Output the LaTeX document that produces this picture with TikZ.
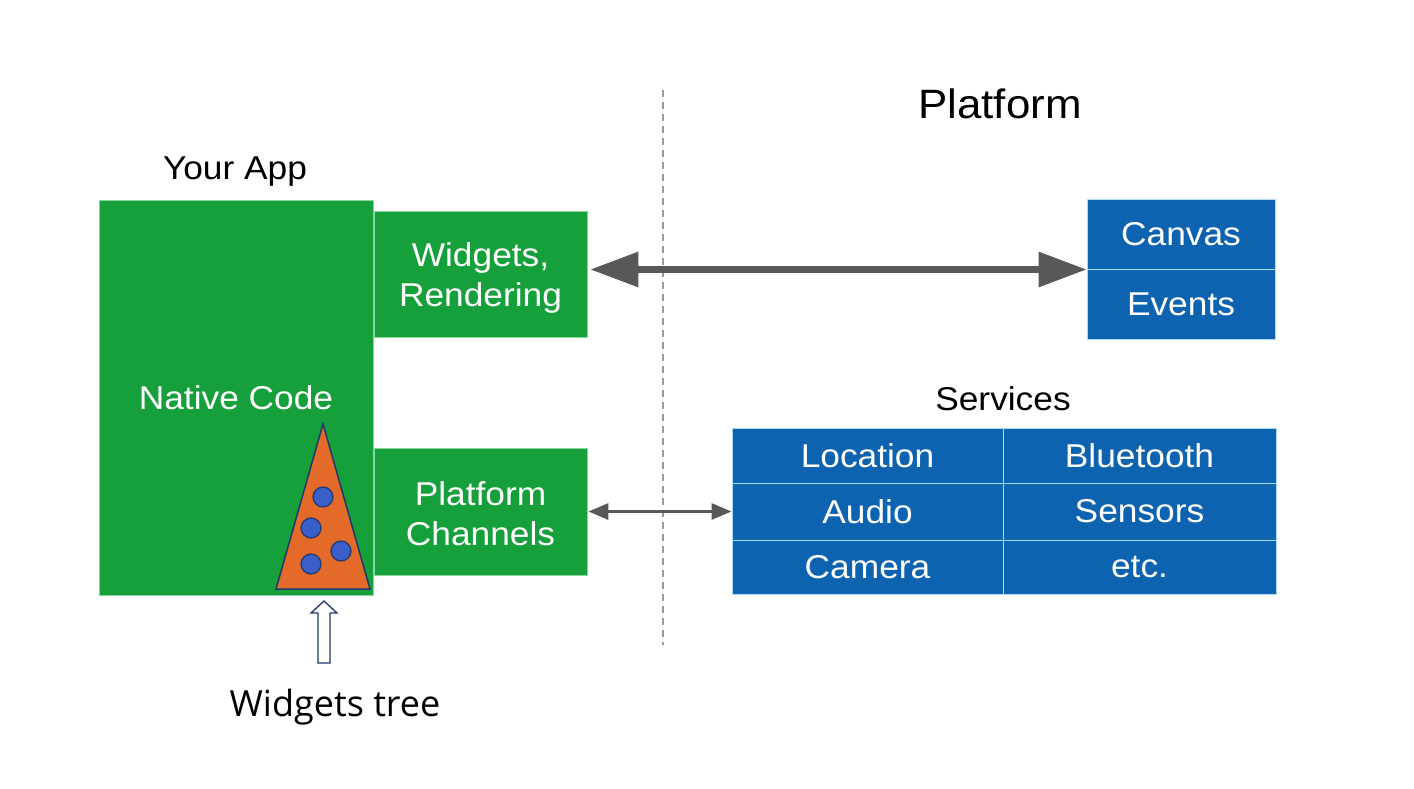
\documentclass[tikz,border=0pt]{standalone}
\usepackage{fontspec}
\setmainfont[FakeStretch=1.07]{Liberation Sans}
\newfontfamily\treefont{Open Sans}
\usetikzlibrary{arrows.meta}
\definecolor{appgreen}{RGB}{22,160,60}
\definecolor{appgreenedge}{RGB}{140,215,160}
\definecolor{platblue}{RGB}{14,99,176}
\definecolor{platedge}{RGB}{170,220,245}
\definecolor{arrowgray}{RGB}{88,88,88}
\definecolor{treeorange}{RGB}{228,106,42}
\definecolor{navy}{RGB}{32,56,110}
\definecolor{dotblue}{RGB}{58,95,200}
\tikzset{
  gbox/.style={draw=appgreenedge, line width=0.8pt, fill=appgreen, text=white, inner sep=0pt, align=center,
    font=\fontsize{33}{40}\selectfont},
  bcell/.style={draw=platedge, line width=1pt, fill=platblue, text=white, inner sep=0pt, align=center,
    font=\fontsize{33}{40}\selectfont},
  title/.style={text=black, inner sep=0pt, font=\fontsize{33}{40}\selectfont},
  bigarrow/.style={draw=arrowgray, line width=6.5pt, {Triangle[length=48pt,width=34pt]}-{Triangle[length=48pt,width=34pt]}},
  smallarrow/.style={draw=arrowgray, line width=3pt, {Triangle[length=20pt,width=16pt]}-{Triangle[length=20pt,width=16pt]}},
  divider/.style={draw=gray!80, line width=1.2pt, dash pattern=on 7pt off 5pt},
  dot/.style={circle, draw=navy, line width=1.2pt, fill=dotblue, minimum size=20pt, inner sep=0pt},
}
\begin{document}
\begin{tikzpicture}[x=1pt,y=-1pt]
\useasboundingbox (0,0) rectangle (1414,788);
\fill[white] (0,0) rectangle (1414,788);

% titles
\node[title, font=\fontsize{41}{48}\selectfont] (plattitle) at (1000,104) {Platform};
\node[title] (yourapp) at (235,172) {Your App};
\node[title] (services) at (1003,399) {Services};

% divider
\coordinate (dtop) at (663,90);
\coordinate (dbot) at (663,645);
\draw[divider] (dtop) -- (dbot);

% app boxes
\node[gbox, minimum width=274pt, minimum height=395pt] (native) at (236,397.5) {Native Code};
\node[gbox, minimum width=213pt, minimum height=126pt] (wid) at (480.5,274) {};
\node[gbox, minimum width=213pt, minimum height=127pt] (pc) at (480.5,511.5) {};
\node[text=white, align=center, inner sep=0pt, font=\fontsize{33}{40}\selectfont] (widtext) at ([yshift=-4pt]wid.center) {Widgets,\\Rendering};
\node[text=white, align=center, inner sep=0pt, font=\fontsize{33}{40}\selectfont] (pctext) at ([yshift=-2pt]pc.center) {Platform\\Channels};

% platform boxes
\node[bcell, minimum width=188pt, minimum height=70pt] (canvas) at (1181,234) {Canvas};
\node[bcell, minimum width=188pt, minimum height=70pt] (events) at (1181,304) {Events};

% services table
\node[bcell, minimum width=271pt, minimum height=55pt] (location) at (867.5,455.5) {Location};
\node[bcell, minimum width=273pt, minimum height=55pt] (bluetooth) at (1139.5,455.5) {Bluetooth};
\node[bcell, minimum width=271pt, minimum height=57pt] (audio) at (867.5,511.5) {Audio};
\node[bcell, minimum width=273pt, minimum height=57pt] (sensors) at (1139.5,511.5) {Sensors};
\node[bcell, minimum width=271pt, minimum height=54pt] (camera) at (867.5,567) {Camera};
\node[bcell, minimum width=273pt, minimum height=54pt] (etc) at (1139.5,567) {etc.};

% arrows
\draw[bigarrow] ([xshift=3pt]wid.east |- canvas.south west) -- (canvas.south west);
\draw[smallarrow] ([xshift=1pt]pc.east) -- (audio.west);

% widget tree triangle
\draw[navy, line width=1.5pt, fill=treeorange, line join=miter] (323,424) -- (370,589) -- (276,589) -- cycle;
\node[dot] (d1) at (323,497) {};
\node[dot] (d2) at (311,528) {};
\node[dot] (d3) at (341,551) {};
\node[dot] (d4) at (311,564) {};

% hollow arrow
\draw[navy, line width=1.3pt, fill=white, line join=miter]
  (324,601) -- (337,613) -- (330,613) -- (330,663) -- (318,663) -- (318,613) -- (311,613) -- cycle;

\node[text=black, inner sep=0pt, font=\treefont\fontsize{36}{42}\selectfont] (treelabel) at (335,707) {Widgets tree};
\end{tikzpicture}
\end{document}
